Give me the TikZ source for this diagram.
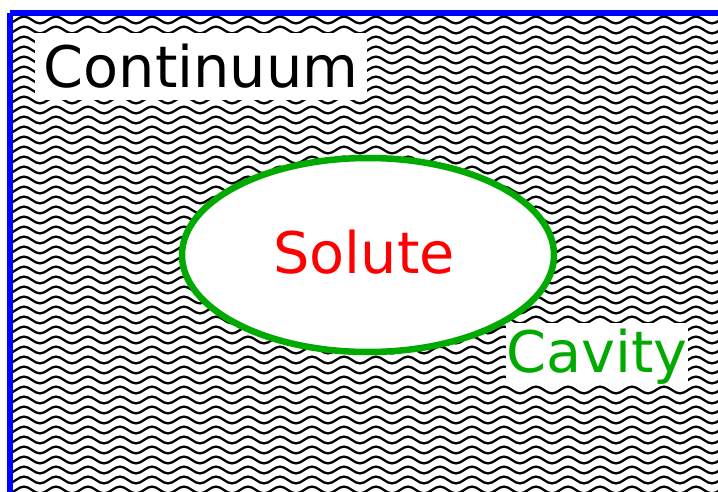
\documentclass[tikz,border=0pt]{standalone}
\usepackage{fontspec}
\setmainfont{DejaVu Sans}
\usetikzlibrary{shapes.geometric}
\definecolor{cavgreen}{RGB}{0,170,0}
\begin{document}
\begin{tikzpicture}[x=1pt,y=-1pt,
  wave/.style={line width=2.3pt,black},
  labelbox/.style={fill=white,inner sep=0pt,font=\fontsize{57.3}{60}\selectfont},
  border/.style={draw=blue,line width=6pt,line join=round}]
\useasboundingbox (0,0) rectangle (718,492);
\fill[white] (0,0) rectangle (718,492);
% wavy continuum
\begin{scope}
\clip (13,17) rectangle (718,492);
\foreach \r in {0,...,47}{
  \draw[wave] (0,{20+10*\r}) \foreach \k in {0,...,23}{
     sin ++(8,3.4) cos ++(8,-3.4) sin ++(8,-3.4) cos ++(8,3.4)};
}
\end{scope}
% border (extends beyond the picture on right and bottom)
\draw[border] (10,13.5) -- (740,13.5) (10,13.5) -- (10,520);
% cavity
\node[ellipse,draw=cavgreen,line width=6.5pt,fill=white,minimum width=372pt,minimum height=194pt,inner sep=0pt] (cavity) at (368,255) {};
\node[labelbox,text=red,anchor=base] (solute) at (364,273) {Solute};
% labels
\node[labelbox,minimum width=332pt,minimum height=67pt,text height=43pt,text depth=0pt] (continuum) at (201,66.5) {Continuum};
\node[labelbox,text=cavgreen,minimum width=182pt,minimum height=58pt,text height=49pt,text depth=13pt] (cavlabel) at (597,354) {Cavity};
\end{tikzpicture}
\end{document}
